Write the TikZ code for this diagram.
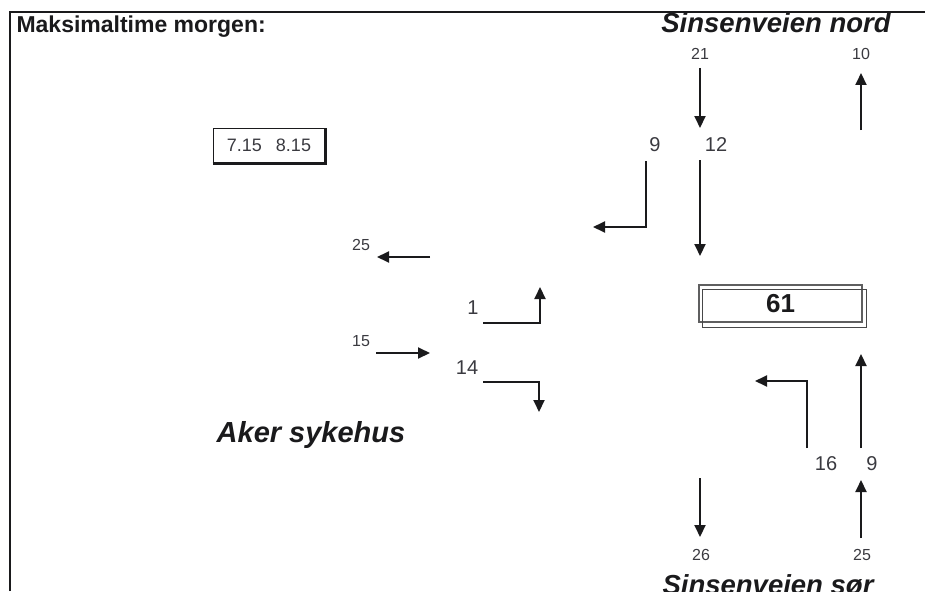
\documentclass[tikz,border=0pt]{standalone}
\usepackage{fontspec}
\setmainfont{Liberation Sans}
\usetikzlibrary{arrows.meta}
\definecolor{ink}  {HTML}{1A1A1C}
\definecolor{digit}{HTML}{3A3A40}

\begin{document}
\begin{tikzpicture}[x=1pt, y=-1pt,
    pil/.style={-{Triangle[length=12pt,width=11pt]}, line width=2pt, ink},
    smaatall/.style={text=digit, font=\fontsize{16}{18}\selectfont},
    stortall/.style={text=digit, font=\fontsize{20}{22}\selectfont},
    veg/.style={text=ink, font=\fontsize{27.5}{30}\selectfont\bfseries\itshape}]
    \useasboundingbox (0,0) rectangle (925,591);

    % frame, only top and left edge show
    \draw[ink, line width=1.5pt] (10,591) |- (925,12);

    \node[anchor=base west, text=ink, font=\fontsize{23}{25}\selectfont\bfseries]
      (tittel) at (13,33) {Maksimaltime morgen:};

    % road names
    \node[veg, anchor=base] (nord) at (776,32.5) {Sinsenveien nord};
    \node[veg, anchor=base] (sor)  at (768,594)  {Sinsenveien sør};
    \node[veg, anchor=base, font=\fontsize{29}{30}\selectfont\bfseries\itshape]
      (aker) at (311,442) {Aker sykehus};

    % time interval
    \node[draw=ink, line width=1pt, minimum width=112pt, minimum height=35pt,
          text=digit, font=\fontsize{18}{20}\selectfont]
      (tid) at (269,145.5) {7.15\hspace{14pt}8.15};
    \draw[ink, line width=3.5pt] (tid.south west) -| (tid.north east);

    % total in the crossing
    \node[draw=ink!70, line width=1.2pt, minimum width=163pt, minimum height=37pt,
          text=ink, font=\fontsize{26}{28}\selectfont\bfseries]
      (sum) at (780.5,303.5) {61};
    \draw[ink!80, line width=1.2pt] ([shift={(4,5)}]sum.north west)
      rectangle ([shift={(4,5)}]sum.south east);

    % straight arrows
    \foreach \navn/\xa/\ya/\xb/\yb in {%
      n21/700/68/700/128,
      n10/861/130/861/73,
      n12/700/160/700/256,
      v25/430/257/377/257,
      v15/376/353/430/353,
      s9/861/448/861/354,
      s25/861/538/861/480,
      s26/700/478/700/537}
      {\coordinate (\navn-a) at (\xa,\ya);
       \coordinate (\navn-b) at (\xb,\yb);
       \draw[pil] (\navn-a) -- (\navn-b);}

    % turning arrows
    \coordinate (t9-a)  at (646,161); \coordinate (t9-b)  at (593,227);
    \coordinate (t1-a)  at (483,323); \coordinate (t1-b)  at (540,287);
    \coordinate (t14-a) at (483,382); \coordinate (t14-b) at (539,412);
    \coordinate (t16-a) at (807,448); \coordinate (t16-b) at (755,381);
    \draw[pil] (t9-a)  |- (t9-b);
    \draw[pil] (t1-a)  -| (t1-b);
    \draw[pil] (t14-a) -| (t14-b);
    \draw[pil] (t16-a) |- (t16-b);

    % counts
    \foreach \navn/\x/\y/\antall in {%
      l21/700/54/21, l10/861/54/10, lv25/361/245/25,
      l15/361/341/15, l26/701/555/26, ls25/862/555/25}
      {\node[smaatall] (\navn) at (\x,\y) {\antall};}
    \foreach \navn/\x/\y/\antall in {%
      l9/655/145/9, l12/716/145/12, l1/473/308/1,
      l14/467/368/14, l16/826/464/16, ls9/872/464/9}
      {\node[stortall] (\navn) at (\x,\y) {\antall};}
\end{tikzpicture}
\end{document}
